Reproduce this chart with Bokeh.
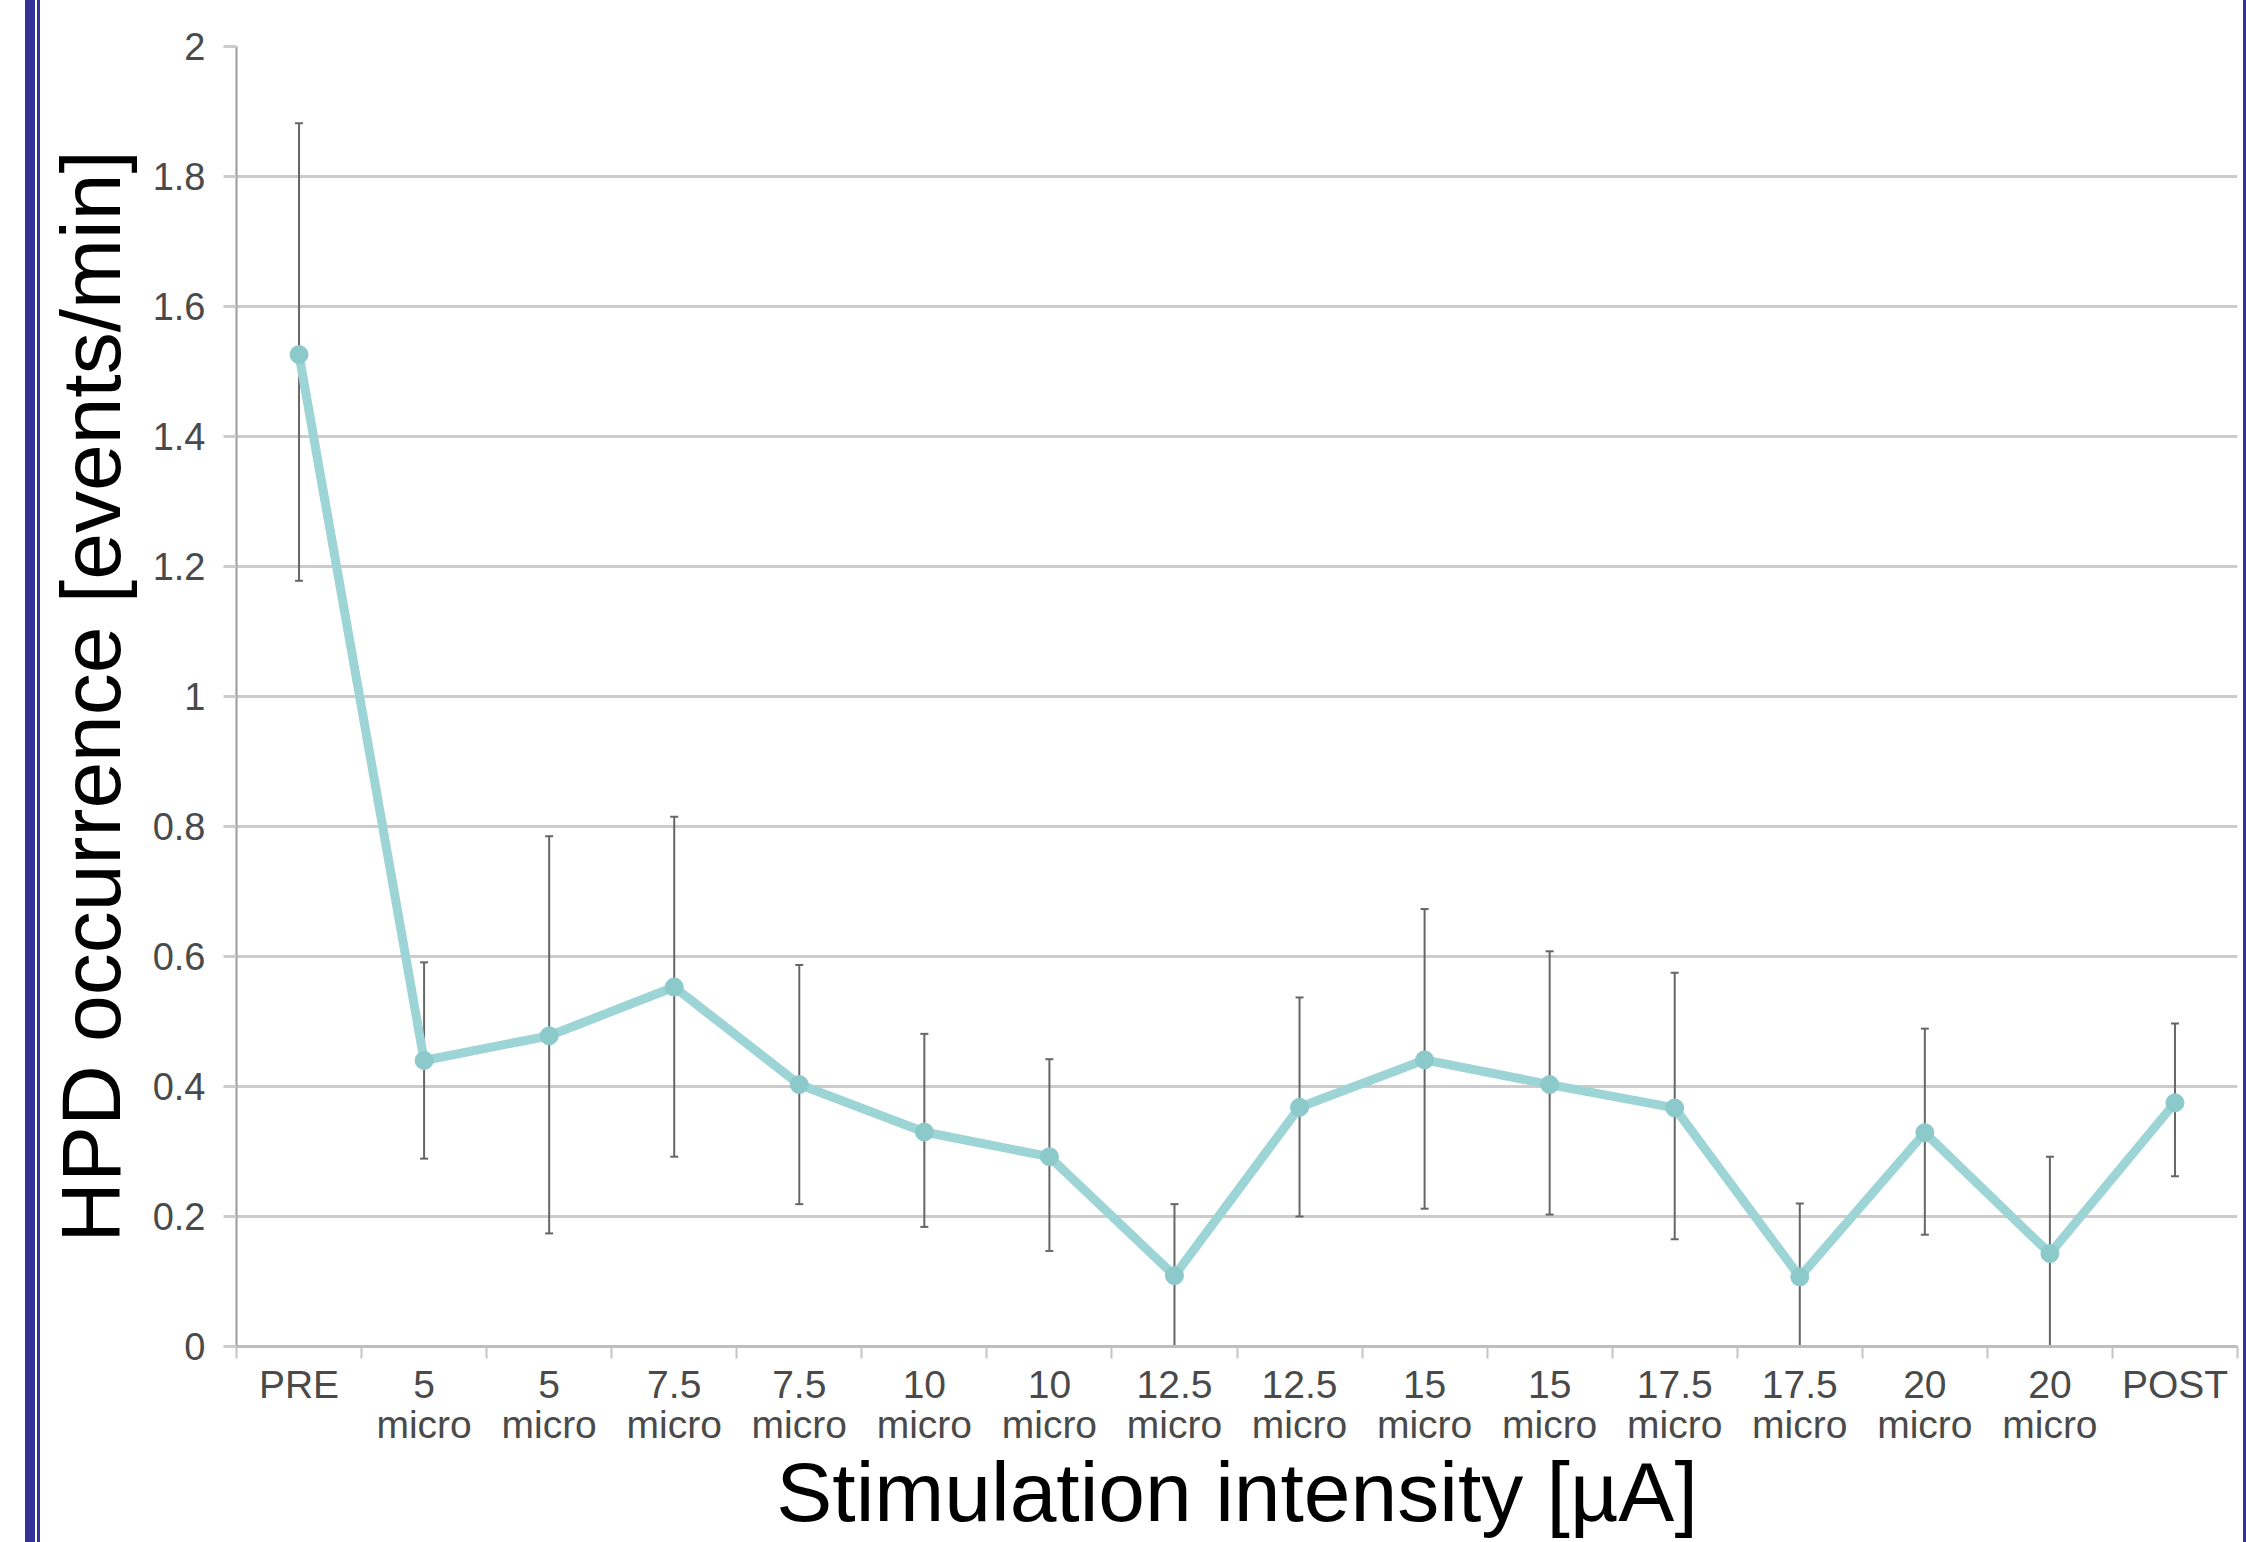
from bokeh.plotting import figure
from bokeh.models import ColumnDataSource, Range1d, FixedTicker, Whisker, TeeHead, Div
from bokeh.layouts import row
from bokeh.embed import file_html
from bokeh.resources import INLINE

# ---- data ----
categories = ["PRE", "5\nmicro", "5\nmicro", "7.5\nmicro", "7.5\nmicro", "10\nmicro", "10\nmicro",
              "12.5\nmicro", "12.5\nmicro", "15\nmicro", "15\nmicro", "17.5\nmicro", "17.5\nmicro",
              "20\nmicro", "20\nmicro", "POST"]
mean_rate = [1.526, 0.440, 0.478, 0.553, 0.403, 0.330, 0.292, 0.109, 0.368, 0.441, 0.403, 0.367,
             0.107, 0.329, 0.143, 0.375]
upper_err = [1.882, 0.591, 0.785, 0.815, 0.587, 0.481, 0.442, 0.219, 0.537, 0.673, 0.608, 0.575,
             0.220, 0.489, 0.292, 0.497]
lower_err = [1.178, 0.289, 0.174, 0.292, 0.219, 0.184, 0.147, 0.0, 0.200, 0.212, 0.203, 0.165,
             0.0, 0.172, 0.0, 0.262]
y_ticks = [0, 0.2, 0.4, 0.6, 0.8, 1, 1.2, 1.4, 1.6, 1.8, 2]
y_tick_labels = ["0", "0.2", "0.4", "0.6", "0.8", "1", "1.2", "1.4", "1.6", "1.8", "2"]
x_title = "Stimulation intensity [µA]"
y_title = "HPD occurrence [events/min]"

n = len(categories)
centers = [i + 0.5 for i in range(n)]
edges = [float(i) for i in range(n + 1)]

src = ColumnDataSource(dict(x=centers, y=mean_rate, upper=upper_err, lower=lower_err))

FIG_W = 2202
p = figure(width=FIG_W, height=1542, x_range=Range1d(0, n), y_range=Range1d(0, 2),
           output_backend="svg", toolbar_location=None,
           min_border_left=193, min_border_right=5, min_border_top=46, min_border_bottom=196)
p.outline_line_color = None
p.background_fill_color = "white"
p.border_fill_color = "white"

# grid
yt = FixedTicker(ticks=y_ticks, minor_ticks=[])
p.xgrid.visible = False
p.ygrid.ticker = yt
p.ygrid.grid_line_color = "#cccccc"
p.ygrid.grid_line_width = 3

# y axis
p.yaxis.ticker = yt
p.yaxis.major_label_overrides = {t: l for t, l in zip(y_ticks, y_tick_labels)}
p.yaxis.major_tick_out = 13
p.yaxis.major_tick_in = 0
p.yaxis.major_tick_line_color = "#cccccc"
p.yaxis.major_tick_line_width = 3
p.yaxis.minor_tick_line_color = None
p.yaxis.axis_line_color = "#9a9a9a"
p.yaxis.axis_line_width = 2
p.yaxis.major_label_standoff = 18
p.yaxis.major_label_text_font = "Liberation Sans"
p.yaxis.major_label_text_font_size = "38px"
p.yaxis.major_label_text_color = "#4a4a4a"
p.yaxis.axis_label = y_title
p.yaxis.axis_label_text_font = "Liberation Sans"
p.yaxis.axis_label_text_font_size = "84px"
p.yaxis.axis_label_text_font_style = "normal"
p.yaxis.axis_label_text_color = "black"
p.yaxis.axis_label_standoff = 12

# x axis
p.xaxis.ticker = FixedTicker(ticks=centers, minor_ticks=edges)
p.xaxis.major_label_overrides = {c: l for c, l in zip(centers, categories)}
p.xaxis.major_tick_line_color = None
p.xaxis.major_tick_out = 0
p.xaxis.major_tick_in = 0
p.xaxis.minor_tick_out = 12
p.xaxis.minor_tick_in = 0
p.xaxis.minor_tick_line_color = "#c4c4c4"
p.xaxis.minor_tick_line_width = 2
p.xaxis.axis_line_color = "#bdbdbd"
p.xaxis.axis_line_width = 3
p.xaxis.major_label_standoff = 4
p.xaxis.major_label_text_font = "Liberation Sans"
p.xaxis.major_label_text_font_size = "39px"
p.xaxis.major_label_text_color = "#4a4a4a"
p.xaxis.major_label_text_line_height = 0.95
p.xaxis.axis_label = x_title
p.xaxis.axis_label_text_font = "Liberation Sans"
p.xaxis.axis_label_text_font_size = "84px"
p.xaxis.axis_label_text_font_style = "normal"
p.xaxis.axis_label_text_color = "black"
p.xaxis.axis_label_standoff = -4

# error bars
w = Whisker(base="x", upper="upper", lower="lower", source=src,
            line_color="#666666", line_width=2,
            upper_head=TeeHead(size=8, line_color="#666666", line_width=2),
            lower_head=TeeHead(size=8, line_color="#666666", line_width=2))
w.level = "underlay"
p.add_layout(w)

# mean line and markers
p.line("x", "y", source=src, line_color="#9dd4d5", line_width=9)
p.scatter("x", "y", source=src, marker="circle", size=18, fill_color="#8bc9ca", line_color="#8bc9ca")

left = Div(text="", width=40, height=1542, margin=0,
           styles={"background": "linear-gradient(to right, #ffffff 0px, #ffffff 25px, #333399 25px, #333399 35px, #ffffff 35px, #ffffff 37px, #333399 37px, #333399 40px)"})
right = Div(text="", width=4, height=1542, margin=0,
            styles={"background": "linear-gradient(to right, #ffffff 0px, #ffffff 1px, #333399 1px, #333399 4px)"})

layout = row(left, p, right)
open("out.html", "w").write(file_html(layout, INLINE))
